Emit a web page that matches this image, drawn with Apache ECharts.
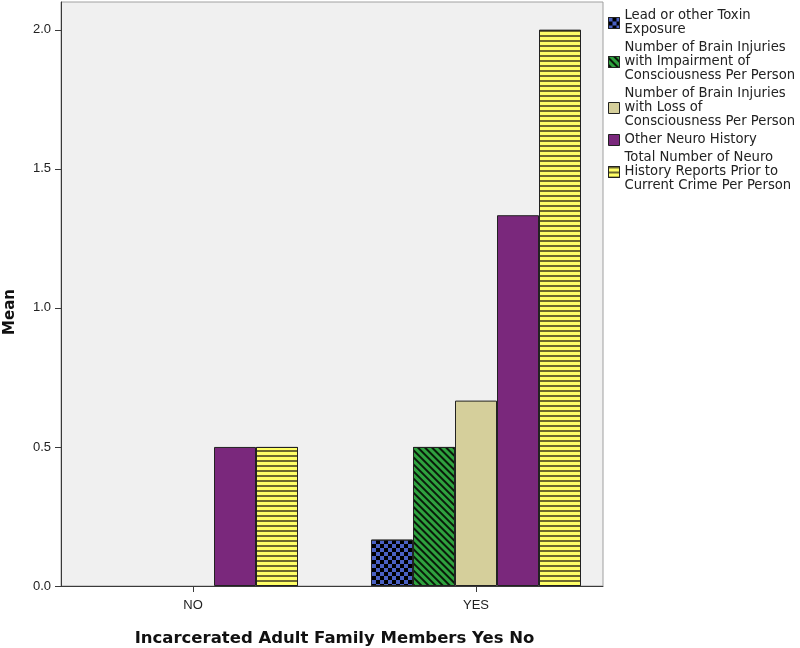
<!DOCTYPE html>
<html>
<head>
<meta charset="utf-8">
<script src="https://cdn.jsdelivr.net/npm/echarts@6/dist/echarts.min.js"></script>
<style>
  html, body { margin: 0; padding: 0; background: #fff; }
  #chart { width: 800px; height: 648px; }
</style>
</head>
<body>
<div id="chart"></div>
<script>
var categories = ['NO', 'YES'];
var seriesNames = [
  'Lead or other Toxin\nExposure',
  'Number of Brain Injuries\nwith Impairment of\nConsciousness Per Person',
  'Number of Brain Injuries\nwith Loss of\nConsciousness Per Person',
  'Other Neuro History',
  'Total Number of Neuro\nHistory Reports Prior to\nCurrent Crime Per Person'
];
var leadToxin = ['-', 0.1667];
var impairment = ['-', 0.5];
var lossOfConsciousness = ['-', 0.6667];
var otherNeuro = [0.5, 1.3333];
var totalNeuro = [0.5, 2.0];
var yTicks = [0, 0.5, 1.0, 1.5, 2.0];

var myChart = echarts.init(document.getElementById('chart'));

var gridTop = 2;
var gridBottom = 62;

var styles = [
  {
    color: '#4a61c3',
    decal: { symbol: 'rect', symbolSize: 1, color: '#000', dashArrayX: [[4, 4], [0, 4, 4, 0]], dashArrayY: [4, 0], rotation: 0 }
  },
  {
    color: '#2ea23e',
    decal: { symbol: 'rect', symbolSize: 1, color: '#0a1a0a', dashArrayX: [1, 0], dashArrayY: [2, 3], rotation: Math.PI / 4 }
  },
  { color: '#d5cf9b' },
  { color: '#7a287c' },
  {
    color: '#ffff66',
    decal: { symbol: 'rect', symbolSize: 1, color: '#6e6a2e', dashArrayX: [1, 0], dashArrayY: [2, 3], rotation: 0 }
  }
];

var dataSets = [leadToxin, impairment, lossOfConsciousness, otherNeuro, totalNeuro];

var series = dataSets.map(function (d, i) {
  var itemStyle = {
    color: styles[i].color,
    borderColor: '#222',
    borderWidth: 1
  };
  if (styles[i].decal) itemStyle.decal = styles[i].decal;
  return {
    name: seriesNames[i],
    type: 'bar',
    xAxisIndex: 1,
    yAxisIndex: 1,
    data: d,
    barWidth: 42,
    barGap: '0%',
    itemStyle: itemStyle,
    emphasis: { disabled: true }
  };
});

var option = {
  animation: false,
  grid: [
    // visible plot box
    { left: 61, right: 197, top: gridTop, bottom: gridBottom, show: true, backgroundColor: '#f0f0f0', borderColor: '#a0a0a0', borderWidth: 1, outerBoundsMode: 'none' },
    // wider grid to place category centers like the original
    { left: 51.5, right: 182.5, top: gridTop, bottom: gridBottom, outerBoundsMode: 'none' }
  ],
  legend: {
    orient: 'vertical',
    left: 603,
    top: 4,
    itemWidth: 11,
    itemHeight: 11,
    itemGap: 4,
    icon: 'rect',
    selectedMode: false,
    itemStyle: { borderColor: '#222', borderWidth: 1 },
    textStyle: { fontFamily: 'DejaVu Sans', fontSize: 13.2, lineHeight: 14, color: '#222' },
    data: seriesNames
  },
  xAxis: [
    {
      gridIndex: 0,
      type: 'value',
      min: 0,
      max: 1,
      axisLine: { show: true, lineStyle: { color: '#3a3a3a', width: 1 } },
      axisTick: { show: false },
      axisLabel: { show: false },
      splitLine: { show: false }
    },
    {
      gridIndex: 1,
      type: 'category',
      data: categories,
      axisLine: { show: false },
      axisTick: { show: true, alignWithLabel: true, length: 6, lineStyle: { color: '#3a3a3a' } },
      axisLabel: { fontFamily: 'Liberation Sans', fontSize: 13, color: '#222', margin: 13 },
      name: 'Incarcerated Adult Family Members Yes No',
      nameLocation: 'middle',
      nameGap: 44,
      nameTextStyle: { fontFamily: 'DejaVu Sans', fontWeight: 'bold', fontSize: 16.5, color: '#111' }
    }
  ],
  yAxis: [
    {
      gridIndex: 0,
      type: 'value',
      min: 0,
      max: 2.1,
      axisLine: { show: true, lineStyle: { color: '#3a3a3a', width: 1 } },
      axisTick: { show: true, length: 6, customValues: yTicks, lineStyle: { color: '#3a3a3a' } },
      axisLabel: {
        customValues: yTicks,
        fontFamily: 'Liberation Sans',
        fontSize: 13,
        color: '#222',
        margin: 10,
        formatter: function (v) { return v.toFixed(1); }
      },
      splitLine: { show: false }
    },
    {
      gridIndex: 1,
      type: 'value',
      min: 0,
      max: 2.1,
      show: false
    }
  ],
  graphic: [
    {
      type: 'text',
      x: 10,
      y: 312,
      rotation: Math.PI / 2,
      style: {
        text: 'Mean',
        font: 'bold 15px "DejaVu Sans"',
        fill: '#111',
        align: 'center',
        verticalAlign: 'middle'
      }
    }
  ],
  series: series
};

myChart.setOption(option);
</script>
</body>
</html>
